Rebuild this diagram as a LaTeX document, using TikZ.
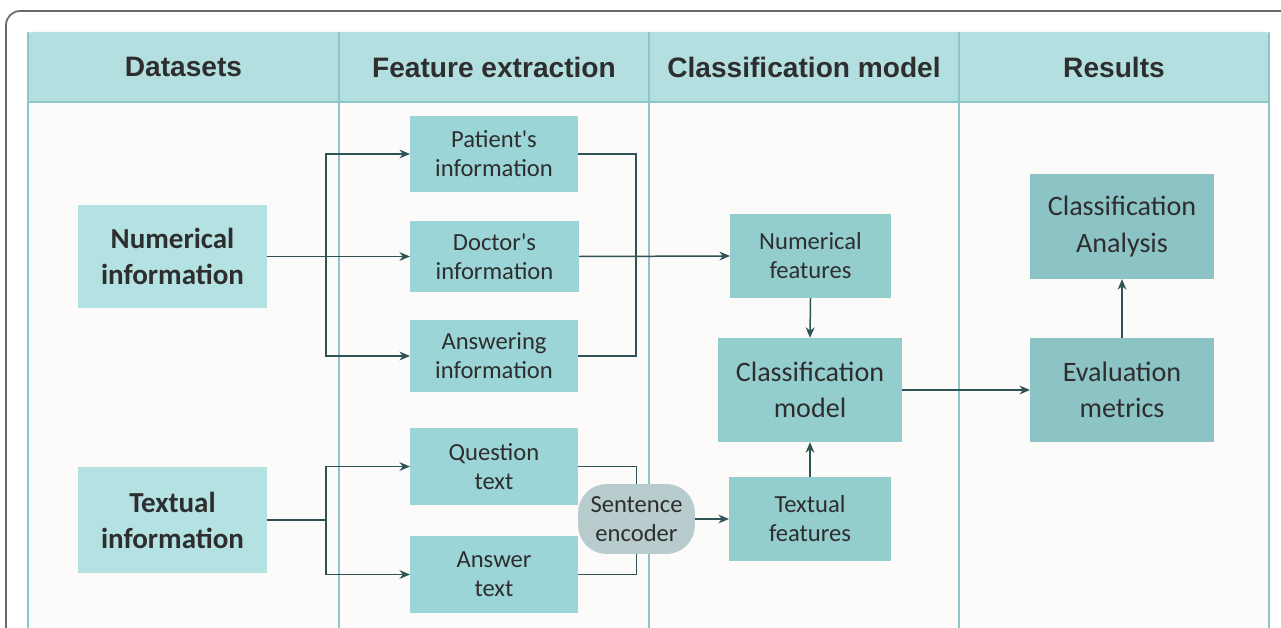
\documentclass[tikz,border=0pt]{standalone}
\usepackage{fontspec}
\setmainfont{Carlito}
\newfontfamily\headfont{Liberation Sans}
\usetikzlibrary{arrows.meta,positioning,calc}
\definecolor{headbg}{HTML}{B4DFE0}
\definecolor{laneline}{HTML}{8EC5C8}
\definecolor{bodybg}{HTML}{FCFBFA}
\definecolor{dataset}{HTML}{B4E1E1}
\definecolor{extract}{HTML}{9BD5D7}
\definecolor{encoder}{HTML}{B8CCCE}
\definecolor{feature}{HTML}{93CDCD}
\definecolor{result}{HTML}{8CC3C4}
\definecolor{ink}{HTML}{2E2E2E}
\definecolor{conn}{HTML}{2E5354}
\definecolor{frame}{HTML}{6A6A6A}

\begin{document}
\begin{tikzpicture}[x=0.02cm,y=-0.02cm,
  bx/.style 2 args={minimum width=#1*0.5669pt,minimum height=#2*0.5669pt,inner sep=0pt,align=center,text=ink},
  small/.style={font=\fontsize{14}{16.5}\selectfont},
  large/.style={font=\fontsize{16}{20.5}\selectfont},
  boldbox/.style={font=\bfseries\fontsize{16.5}{20.5}\selectfont},
  heading/.style={font=\headfont\bfseries\fontsize{16}{20}\selectfont,text=ink},
  link/.style={draw=conn,line width=0.85pt},
  arrow/.style={link,-{Stealth[length=6pt,width=5pt]}}]
\useasboundingbox (0,0) rectangle (1281,628);
\fill[white] (0,0) rectangle (1281,628);
\draw[draw=frame,line width=1pt,rounded corners=8] (6,640) -- (6,11) -- (1300,11);
% lanes
\fill[bodybg] (28,102) rectangle (1269,640);
\fill[headbg,rounded corners=2] (28,32) rectangle (1269,102);
\draw[draw=laneline,line width=0.8pt] (28,102) -- (1269,102);
\foreach \lx in {28,339,649,959,1269}
  \draw[draw=laneline,line width=0.8pt] (\lx,32) -- (\lx,640);
\node[heading] (hdata) at (183.5,67) {Datasets};
\node[heading] (hfeat) at (494,67) {Feature extraction};
\node[heading] (hclass) at (804,67) {Classification model};
\node[heading] (hres) at (1114,67) {Results};
% datasets
\node[bx={189}{103},fill=dataset,boldbox] (num) at (172.5,256.5) {Numerical\\information};
\node[bx={189}{106},fill=dataset,boldbox] (txt) at (172.5,520) {Textual\\information};
% feature extraction
\node[bx={168}{76},fill=extract,small] (pat) at (494,154) {Patient\textquotesingle s\\information};
\node[bx={169}{71},fill=extract,small] (doc) at (494.5,256.5) {Doctor\textquotesingle s\\information};
\node[bx={168}{72},fill=extract,small] (answ) at (494,356) {Answering\\information};
\node[bx={168}{77},fill=extract,small] (que) at (494,466.5) {Question\\text};
\node[bx={168}{77},fill=extract,small] (ans) at (494,574.5) {Answer\\text};
\node[bx={117}{70},fill=encoder,rounded corners=16pt,small] (enc) at (636.5,519) {Sentence\\encoder};
% classification model
\node[bx={161}{84},fill=feature,small] (nfeat) at (810.5,256) {Numerical\\features};
\node[bx={184}{104},fill=feature,large] (cmodel) at (810,390) {Classification\\model};
\node[bx={162}{84},fill=feature,small] (tfeat) at (810,519) {Textual\\features};
% results
\node[bx={184}{105},fill=result,large] (canal) at (1122,226.5) {Classification\\Analysis};
\node[bx={184}{104},fill=result,large] (eval) at (1122,390) {Evaluation\\metrics};
% connectors
\draw[arrow] (num.east) -- ++(59,0) |- (pat.west);
\draw[arrow] (num.east) -- (doc.west);
\draw[arrow] (num.east) -- ++(59,0) |- (answ.west);
\draw[link] (pat.east) -- ++(58,0) |- (answ.east);
\draw[arrow] (doc.east) -- (nfeat.west);
\draw[arrow] (txt.east) -- ++(59,0) |- (que.west);
\draw[arrow] (txt.east) -- ++(59,0) |- (ans.west);
\draw[link] (que.east) -| (enc.north);
\draw[link] (ans.east) -| (enc.south);
\draw[arrow] (enc.east) -- (tfeat.west);
\draw[arrow] (nfeat.south) -- (cmodel.north);
\draw[arrow] (tfeat.north) -- (cmodel.south);
\draw[arrow] (cmodel.east) -- (eval.west);
\draw[arrow] (eval.north) -- (canal.south);
\end{tikzpicture}
\end{document}
